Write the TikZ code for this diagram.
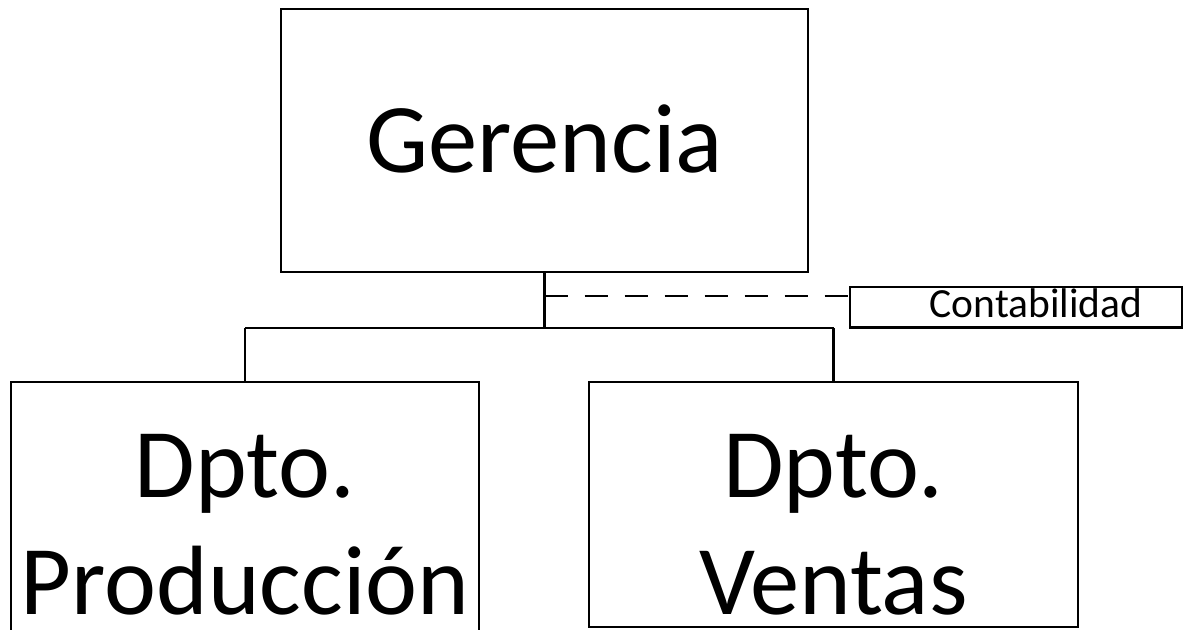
\documentclass[tikz,border=0pt]{standalone}
\usepackage{fontspec}
\setmainfont{Carlito}
\begin{document}
\begin{tikzpicture}[x=1pt,y=-1pt,
  box/.style={draw=black,line width=2.6pt,rectangle,inner sep=0pt,outer sep=0pt},
  big/.style={font=\fontsize{98.5}{118}\selectfont,inner sep=0pt,anchor=base,text depth=0pt},
  small/.style={font=\fontsize{41.5}{50}\selectfont,inner sep=0pt,anchor=base},
  conn/.style={line width=2.2pt},
  dashconn/.style={line width=1.6pt,dash pattern=on 23pt off 17pt}]
\useasboundingbox (0,0) rectangle (1188,629);
\clip (0,0) rectangle (1188,629);
\fill[white] (0,0) rectangle (1188,629);
% boxes
\node[box,minimum width=527pt,minimum height=263pt] (ger) at (544.5,140.5) {};
\node[box,minimum width=332pt,minimum height=40.5pt] (cont) at (1016,307.25) {};
\node[box,minimum width=468pt,minimum height=258pt] (prod) at (245,511) {};
\node[box,minimum width=489pt,minimum height=245pt] (vent) at (833.5,504.5) {};
% texts
\node[big] (gerT) at (544.5,172) {Gerencia};
\node[small] (contT) at (1036,317) {Contabilidad};
\node[big] (prodA) at (245,497) {Dpto.};
\node[big] (prodB) at (245,614) {Producción};
\node[big] (ventA) at (833.5,497) {Dpto.};
\node[big] (ventB) at (833.5,614) {Ventas};
% connectors
\coordinate (bus) at (544.5,328);
\coordinate (dj) at (544.5,296);
\draw[conn] (ger.south) -- (ger.south |- bus);
\draw[conn] (prod.north |- bus) -- (vent.north |- bus);
\draw[conn] (prod.north |- bus) -- (prod.north);
\draw[conn] (vent.north |- bus) -- (vent.north);
\draw[dashconn] (dj) -- (dj -| cont.west);
\end{tikzpicture}
\end{document}
